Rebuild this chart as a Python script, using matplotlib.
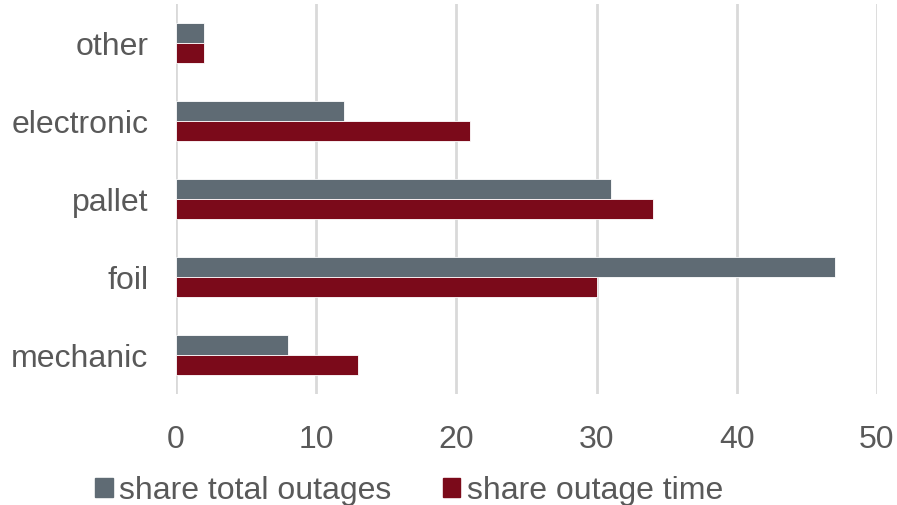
import matplotlib.pyplot as plt
import numpy as np
from matplotlib.patches import Patch

categories = ['mechanic', 'foil', 'pallet', 'electronic', 'other']
total_outages = [8, 47, 31, 12, 2]
outage_time = [13, 30, 34, 21, 2]

grey = '#5f6b74'
red = '#7b0a1a'
text_col = '#595959'

plt.rcParams['font.family'] = ['Liberation Sans', 'DejaVu Sans']

fig = plt.figure(figsize=(8.97, 5.05), dpi=100)
ax = fig.add_axes([0.1962, 0.2198, 0.7815, 0.772])

y = np.arange(len(categories))
h = 0.26
ax.barh(y + h / 2, total_outages, h, color=grey, edgecolor='white', linewidth=0.6, zorder=3)
ax.barh(y - h / 2, outage_time, h, color=red, edgecolor='white', linewidth=0.6, zorder=3)

ax.set_xlim(0, 50)
ax.set_ylim(-0.5, 4.5)
ax.set_xticks(range(0, 51, 10))
ax.set_yticks(y, categories)
ax.grid(axis='x', color='#d9d9d9', linewidth=2, zorder=0)
for s in ax.spines.values():
    s.set_visible(False)
ax.tick_params(axis='both', length=0, labelsize=23, labelcolor=text_col)
ax.tick_params(axis='y', pad=20)
ax.tick_params(axis='x', pad=22)

handles = [Patch(color=grey, label='share total outages'),
           Patch(color=red, label='share outage time')]
fig.legend(handles=handles, loc='center', bbox_to_anchor=(0.456, 0.028), ncols=2,
           frameon=False, fontsize=23, labelcolor=text_col,
           handlelength=0.55, handleheight=0.55, handletextpad=0.2, columnspacing=1.6)

plt.savefig('out.png', dpi=100)
